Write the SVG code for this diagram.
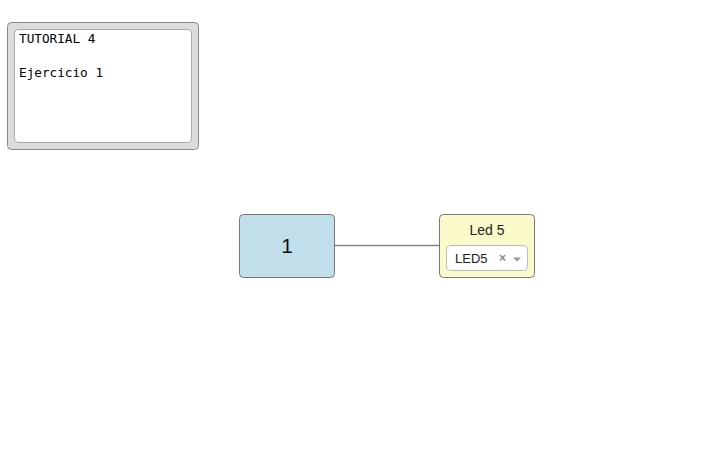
<svg xmlns="http://www.w3.org/2000/svg" width="712" height="452" viewBox="0 0 712 452">
<style>
.node{stroke:#777;stroke-width:1}
.mono{font-family:"DejaVu Sans Mono",monospace;font-size:12.7px;fill:#000}
.sans{font-family:"Liberation Sans",Arial,sans-serif;fill:#222}
</style>
<rect width="712" height="452" fill="#fff"/>
<g id="title">
<rect x="7.5" y="22.5" width="191" height="127" rx="4" fill="#dcdcdc" stroke="#888"/>
<rect x="14.5" y="29.5" width="177" height="113" rx="4" fill="#fff" stroke="#aaa"/>
<text class="mono" x="19" y="43">TUTORIAL 4</text>
<text class="mono" x="19" y="77">Ejercicio 1</text>
</g>
<g id="connectors">
<line x1="334.5" y1="245.5" x2="439.5" y2="245.5" stroke="#888" stroke-width="1.5"/>
</g>
<g id="node1">
<rect class="node" x="239.5" y="214.5" width="95" height="63" rx="4" fill="#c1dfea"/>
<text class="sans" x="287" y="253" font-size="21" text-anchor="middle" style="fill:#111">1</text>
</g>
<g id="led5">
<rect class="node" x="439.5" y="214.5" width="95" height="63" rx="4" fill="#fbfacb"/>
<text class="sans" x="487" y="235" font-size="14" text-anchor="middle">Led 5</text>
<rect x="446.5" y="245.5" width="81" height="25" rx="4" fill="#fff" stroke="#bbb"/>
<text class="sans" x="455" y="262.5" font-size="13">LED5</text>
<text class="sans" x="502.5" y="262" font-size="12" text-anchor="middle" font-weight="bold" style="fill:#888">×</text>
<polygon points="513,257.5 521,257.5 517,261.5" fill="#999"/>
</g>
</svg>
